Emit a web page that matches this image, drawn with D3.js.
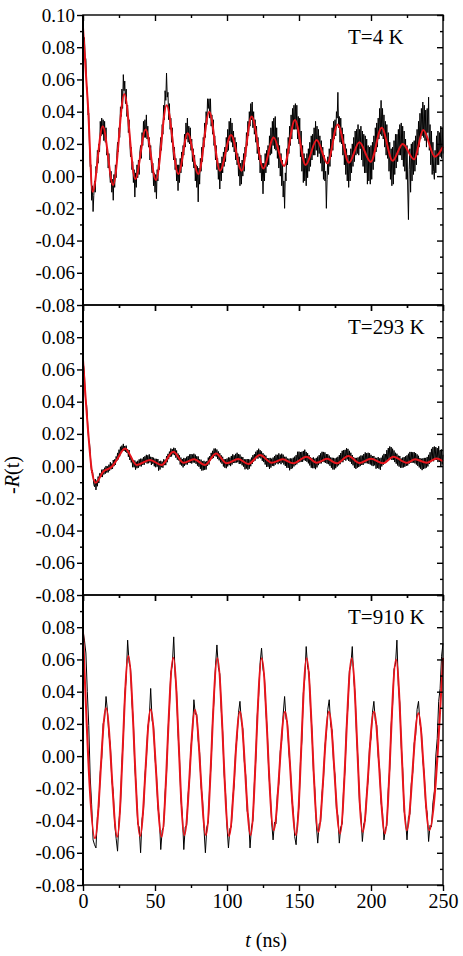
<!DOCTYPE html>
<html><head><meta charset="utf-8">
<script src="https://cdn.jsdelivr.net/npm/d3@7/dist/d3.min.js"></script>
<style>
body{margin:0;background:#fff}
svg{display:block}
text{font-family:"Liberation Serif","Times New Roman",serif;fill:#000}
</style>
</head><body>
<svg id="chart" width="463" height="956"></svg>
<script>
// ---------- data ----------
const panelLabels = ["T=4 K", "T=293 K", "T=910 K"];
const xTickValues = [0, 50, 100, 150, 200, 250];
const yTickValues = [-0.08, -0.06, -0.04, -0.02, 0.00, 0.02, 0.04, 0.06, 0.08, 0.10];
const sampleSteps = [0.5, 0.5, 1]; // ns between recorded points of each measured (black) trace

// measured signal, T = 4 K (t = 0, 0.5, ... 250 ns)
const measuredTop = [
0.094,0.084,0.086,0.073,0.073,0.056,0.054,0.038,0.039,0.019,
0.006,0.007,-0.015,-0.006,-0.022,-0.012,-0.003,-0.010,0.006,0.002,
0.016,0.008,0.020,0.015,0.034,0.025,0.036,0.026,0.035,0.022,
0.034,0.021,0.030,0.013,0.018,0.005,0.014,0.002,-0.004,0.003,
-0.010,-0.002,-0.015,0.001,-0.007,0.007,-0.001,0.013,0.021,0.015,
0.030,0.024,0.043,0.037,0.054,0.042,0.063,0.053,0.059,0.045,
0.054,0.037,0.044,0.027,0.035,0.022,0.012,0.018,0.004,0.009,
-0.004,0.004,-0.013,0.002,-0.007,0.007,-0.001,0.010,0.001,0.015,
0.019,0.011,0.027,0.019,0.034,0.024,0.035,0.024,0.038,0.023,
0.031,0.018,0.024,0.010,0.019,0.007,0.002,0.008,-0.006,0.002,
-0.010,0.001,-0.014,0.004,-0.003,0.011,0.004,0.018,0.024,0.016,
0.032,0.026,0.044,0.035,0.053,0.047,0.064,0.049,0.052,0.035,
0.045,0.029,0.036,0.021,0.030,0.016,0.010,0.018,0.004,0.011,
-0.003,0.007,-0.009,0.007,-0.004,0.011,0.002,0.015,0.006,0.019,
0.013,0.026,0.018,0.033,0.023,0.036,0.021,0.031,0.020,0.030,
0.016,0.023,0.009,0.017,0.005,0.013,-0.003,0.007,-0.007,0.006,
-0.016,0.005,-0.005,0.011,0.003,0.018,0.009,0.024,0.018,0.033,
0.024,0.040,0.032,0.048,0.042,0.048,0.036,0.048,0.031,0.038,
0.026,0.035,0.019,0.025,0.010,0.019,0.004,0.011,-0.002,0.008,
-0.008,0.008,-0.003,0.012,0.002,0.015,0.006,0.018,0.009,0.024,
0.015,0.029,0.016,0.034,0.022,0.036,0.021,0.033,0.018,0.028,
0.015,0.024,0.010,0.021,0.007,0.014,0.000,0.012,-0.006,0.008,
-0.005,0.010,0.000,0.014,0.003,0.018,0.012,0.027,0.019,0.034,
0.025,0.040,0.031,0.045,0.035,0.046,0.030,0.040,0.026,0.035,
0.021,0.031,0.014,0.024,0.010,0.018,0.002,0.013,-0.003,0.008,
-0.011,0.008,-0.003,0.014,0.002,0.016,0.006,0.019,0.007,0.025,
0.013,0.030,0.014,0.034,0.019,0.036,0.017,0.037,0.016,0.030,
0.011,0.024,0.005,0.019,0.000,0.014,-0.006,0.010,-0.013,-0.003,
-0.020,0.002,-0.003,0.017,0.007,0.024,0.014,0.031,0.019,0.038,
0.023,0.042,0.029,0.044,0.029,0.045,0.029,0.044,0.023,0.037,
0.020,0.036,0.012,0.028,0.003,0.019,-0.004,0.014,-0.003,0.011,
-0.006,0.014,-0.001,0.017,0.003,0.021,0.006,0.025,0.010,0.026,
0.013,0.030,0.013,0.034,0.016,0.031,0.012,0.029,0.014,0.025,
0.008,0.022,0.003,0.018,-0.002,0.013,-0.003,0.003,-0.020,-0.002,
0.012,0.001,0.017,0.006,0.023,0.012,0.030,0.016,0.034,0.023,
0.035,0.025,0.040,0.036,0.052,0.030,0.037,0.021,0.036,0.020,
0.030,0.013,0.026,0.007,0.020,0.001,0.017,-0.003,0.013,-0.007,
0.013,-0.003,0.017,0.002,0.020,0.006,0.024,0.009,0.028,0.013,
0.029,0.014,0.032,0.013,0.029,0.017,0.031,0.010,0.028,0.006,
0.026,0.002,0.025,0.002,0.023,-0.005,0.019,-0.003,0.018,-0.005,
0.019,-0.002,0.021,0.004,0.025,0.009,0.030,0.015,0.033,0.018,
0.036,0.023,0.042,0.026,0.047,0.025,0.042,0.023,0.038,0.018,
0.034,0.013,0.032,0.011,0.027,0.003,0.021,-0.002,0.017,-0.006,
0.018,-0.005,0.022,0.001,0.026,0.005,0.026,0.009,0.029,0.013,
0.032,0.013,0.033,0.010,0.031,0.006,0.028,0.003,0.023,-0.002,
0.019,-0.008,-0.027,0.004,0.017,-0.010,0.020,-0.003,0.021,0.001,
0.022,0.003,0.025,0.007,0.029,0.013,0.034,0.018,0.039,0.023,
0.042,0.025,0.046,0.024,0.044,0.022,0.041,0.018,0.042,0.027,
0.049,0.016,0.032,0.007,0.028,0.001,0.021,0.003,-0.002,0.016,
0.002,0.025,0.007,0.028,0.007,0.027,0.012,0.031,0.011,0.030,
0.014];

// measured signal, T = 293 K (t = 0, 0.5, ... 250 ns)
const measuredMid = [
0.064,0.062,0.057,0.045,0.039,0.038,0.031,0.0215,0.016,0.0145,
0.009,0.0005,-0.004,-0.0025,-0.006,-0.0115,-0.0128,-0.008,-0.0148,-0.009,
-0.0125,-0.0065,-0.0105,-0.0045,-0.0045,-0.0068,-0.0022,-0.0068,-0.002,-0.0052,
-0.001,-0.0047,0.0001,-0.004,-0.0002,-0.0039,0.0009,-0.0028,0.0024,-0.002,
0.0016,-0.0018,0.0038,0.0000,0.0042,0.0008,0.006,0.0033,0.0082,0.0042,
0.0102,0.0061,0.012,0.0081,0.0127,0.0095,0.0138,0.0094,0.0125,0.0089,
0.0127,0.0082,0.0106,0.0058,0.010,0.0038,0.0065,0.0023,0.0045,-0.0007,
0.0037,-0.0007,0.0035,-0.0022,0.0027,-0.0013,0.0033,-0.001,0.0042,-0.0001,
0.0046,-0.0002,0.0046,0.0008,0.0056,0.0008,0.0061,0.0023,0.007,0.0016,
0.0067,0.0018,0.0073,0.0023,0.0058,0.0007,0.0056,0.0014,0.0052,-0.0001,
0.0046,-0.0007,0.0045,-0.0003,0.0044,-0.0028,0.003,-0.0021,0.0033,-0.0007,
0.0028,-0.001,0.0042,0.0006,0.004,0.0006,0.0062,0.0024,0.0076,0.0043,
0.009,0.0057,0.0109,0.006,0.0105,0.0072,0.0114,0.0068,0.0111,0.0052,
0.0097,0.004,0.0078,0.0035,0.0067,0.001,0.0053,0.0003,0.0044,-0.0008,
0.0051,0.0002,0.0048,0.001,0.0058,0.001,0.0063,0.002,0.0072,0.0019,
0.0075,0.0016,0.0072,0.0022,0.0077,0.0022,0.0071,0.0014,0.0061,0.0003,
0.006,-0.0004,0.0042,-0.0017,0.004,-0.0028,0.003,-0.0026,0.0033,-0.0023,
0.0027,-0.0021,0.0032,0.0002,0.0053,0.001,0.0062,0.0035,0.0082,0.0044,
0.0095,0.005,0.0109,0.0062,0.0109,0.0059,0.0103,0.0045,0.0091,0.0036,
0.008,0.0024,0.0067,0.0015,0.0058,-0.0002,0.0043,-0.001,0.0043,-0.0013,
0.0047,-0.0002,0.0054,0.0006,0.0053,0.0000,0.0063,0.001,0.0073,0.002,
0.0067,0.0019,0.0076,0.0022,0.0083,0.0024,0.0074,0.0013,0.0072,0.0015,
0.0058,0.0005,0.0056,-0.0003,0.0043,-0.002,0.0042,-0.0015,0.0044,-0.0022,
0.0043,-0.0016,0.0041,-0.0001,0.0053,0.0013,0.0068,0.0028,0.0074,0.0034,
0.0089,0.0049,0.0098,0.0046,0.0108,0.0054,0.0099,0.0048,0.0091,0.0033,
0.008,0.0025,0.007,0.001,0.0065,-0.0005,0.005,-0.0004,0.0049,-0.0018,
0.0051,-0.0009,0.0046,0.0002,0.0053,0.0000,0.0062,0.0009,0.0071,0.0018,
0.007,0.0012,0.0079,0.002,0.0071,0.0012,0.0077,0.0022,0.0071,0.001,
0.0058,0.0001,0.0058,-0.001,0.0047,-0.0011,0.0046,-0.0026,0.0048,-0.0018,
0.0047,-0.0013,0.0052,-0.0002,0.0059,0.0006,0.0068,0.0011,0.0089,0.0022,
0.009,0.0024,0.0087,0.0026,0.0089,0.0027,0.0094,0.0036,0.0102,0.0033,
0.0088,0.0027,0.008,0.0017,0.0068,0.0004,0.0055,-0.001,0.0051,-0.0013,
0.0054,-0.0013,0.0046,-0.0019,0.0051,-0.0008,0.0059,0.0006,0.0068,0.0016,
0.0079,0.0017,0.0089,0.0026,0.0088,0.0024,0.0085,0.002,0.0075,0.0015,
0.0074,0.0012,0.0065,0.0002,0.0054,-0.001,0.0052,-0.0021,0.0051,-0.0021,
0.0048,-0.0013,0.0052,-0.0003,0.0058,0.0005,0.0068,0.0012,0.0081,0.0025,
0.0095,0.0024,0.0099,0.0038,0.0101,0.0034,0.0111,0.0042,0.0107,0.0032,
0.0095,0.0027,0.0083,0.0014,0.0069,0.0005,0.0055,-0.001,0.0051,-0.0017,
0.0051,-0.001,0.0054,-0.0006,0.0059,0.0000,0.0066,0.0008,0.0065,0.0007,
0.0075,0.0018,0.0085,0.0018,0.008,0.0017,0.0083,0.0014,0.008,0.001,
0.007,0.0004,0.0062,0.0000,0.0063,0.0005,0.0052,-0.0016,0.0051,-0.0012,
0.0056,-0.0016,0.0048,-0.0023,0.0052,-0.0002,0.0065,0.0008,0.0076,0.002,
0.0075,0.0024,0.0099,0.0038,0.0112,0.004,0.0122,0.0048,0.0118,0.0038,
0.0108,0.0038,0.0097,0.0025,0.0083,0.0015,0.0077,0.0004,0.0065,-0.0003,
0.0063,-0.001,0.0047,-0.001,0.0053,-0.0008,0.0056,-0.0004,0.0061,0.0001,
0.0067,0.0004,0.0077,0.0015,0.0088,0.0021,0.0088,0.002,0.0086,0.0022,
0.0087,0.0017,0.0081,0.001,0.0073,0.0001,0.0064,-0.0008,0.005,-0.0017,
0.0046,-0.0025,0.0048,-0.0018,0.0051,-0.0014,0.0051,-0.0009,0.0057,-0.0002,
0.007,0.0013,0.0086,0.0024,0.0107,0.0035,0.0118,0.003,0.0122,0.0038,
0.0118,0.0038,0.0112,0.0025,0.0123,0.0026,0.0098,-0.0005,0.0103,0.0011,
0.007];

// measured signal, T = 910 K (t = 0, 1, ... 250 ns)
const measuredBot = [
0.078,0.072,0.064,0.040,0.019,-0.013,-0.030,-0.052,-0.055,-0.057,
-0.038,-0.031,-0.010,-0.001,0.020,0.023,0.037,0.028,0.013,0.007,
-0.015,-0.022,-0.042,-0.051,-0.059,-0.040,-0.031,-0.004,0.011,0.038,
0.048,0.072,0.058,0.055,0.033,0.021,-0.007,-0.020,-0.042,-0.044,
-0.060,-0.039,-0.034,-0.012,-0.002,0.018,0.023,0.042,0.022,0.019,
-0.001,-0.011,-0.032,-0.038,-0.058,-0.046,-0.044,-0.023,-0.011,0.015,
0.030,0.052,0.056,0.074,0.050,0.040,0.014,-0.001,-0.027,-0.036,
-0.058,-0.044,-0.043,-0.024,-0.014,0.006,0.014,0.035,0.026,0.026,
0.010,0.002,-0.019,-0.027,-0.045,-0.060,-0.044,-0.041,-0.018,-0.004,
0.022,0.035,0.056,0.069,0.055,0.051,0.029,0.015,-0.011,-0.023,
-0.044,-0.057,-0.045,-0.044,-0.026,-0.018,0.004,0.012,0.027,0.034,
0.021,0.017,-0.003,-0.012,-0.034,-0.038,-0.057,-0.044,-0.040,-0.017,
-0.002,0.025,0.038,0.058,0.067,0.054,0.049,0.028,0.015,-0.010,
-0.022,-0.041,-0.052,-0.041,-0.042,-0.024,-0.017,0.003,0.010,0.026,
0.037,0.023,0.021,0.002,-0.007,-0.027,-0.034,-0.050,-0.055,-0.039,
-0.031,-0.004,0.010,0.039,0.048,0.068,0.055,0.052,0.030,0.016,
-0.009,-0.021,-0.042,-0.054,-0.042,-0.041,-0.023,-0.014,0.006,0.014,
0.029,0.035,0.019,0.016,-0.004,-0.012,-0.033,-0.037,-0.054,-0.044,
-0.042,-0.020,-0.008,0.019,0.031,0.053,0.056,0.068,0.048,0.038,
0.012,-0.003,-0.029,-0.036,-0.053,-0.042,-0.040,-0.023,-0.015,0.006,
0.011,0.027,0.034,0.022,0.019,0.000,-0.008,-0.029,-0.035,-0.052,
-0.045,-0.043,-0.021,-0.008,0.019,0.032,0.054,0.057,0.072,0.044,
0.033,0.006,-0.008,-0.034,-0.040,-0.052,-0.038,-0.036,-0.017,-0.010,
0.008,0.013,0.029,0.034,0.020,0.016,-0.003,-0.011,-0.031,-0.035,
-0.053,-0.043,-0.044,-0.029,-0.022,0.000,0.011,0.034,0.042,0.062,
0.070];

// fitted curve, T = 4 K (turning points)
const fitTopT = [0,3.5,6.7,13.7,21,28.7,36.3,43.5,50.7,58.1,66.2,72.7,80.1,87.7,95.1,102.8,110.2,117.1,125.2,132.4,139.6,147.2,154.6,162.3,169.7,176.9,184.7,191.9,199.8,207.4,215,222,229.9,236.3,244.4,250];
const fitTopV = [0.092,0.043,-0.0097,0.031,-0.0055,0.051,-0.0018,0.029,-0.0024,0.044,0.0013,0.0266,0.0013,0.040,0.0034,0.0255,0.0034,0.037,0.0048,0.024,0.0063,0.0348,0.0069,0.0224,0.008,0.0321,0.0083,0.021,0.0089,0.030,0.0096,0.020,0.0104,0.0286,0.012,0.0182];

// fitted curve, T = 293 K
const fitMidT = [0,3.7,6,8.8,14,20,23.4,29.2,37.3,46.5,54.6,62.7,69.7,77.1,84.7,92.4,99.8,107.9,114.8,122.9,131,138.7,146,155.3,162.3,169.5,176.2,184.3,192,200,208.5,215.5,224.8,230.6,238.7,245.6,250];
const fitMidV = [0.066,0.020,-0.002,-0.0103,-0.0035,-0.0004,0.0038,0.011,0.0007,0.0038,0.0007,0.0089,0.0021,0.0042,0.0007,0.0079,0.0017,0.0044,0.0013,0.0069,0.0021,0.0042,0.0017,0.0058,0.0021,0.0045,0.0017,0.0062,0.0019,0.0045,0.0017,0.0058,0.0021,0.0042,0.0021,0.0048,0.0030];

// fitted curve, T = 910 K
const fitBotT = [0,8.3,16,23.8,31.5,39.6,47,54.6,62.7,70.4,77.8,85.4,93.3,101.4,109,116.4,124.1,132.4,140.3,147.9,155.3,163.4,170.8,178.5,186.6,194.2,202.1,209.7,217.4,224.8,232.9,240.5,250];
const fitBotV = [0.0772,-0.051,0.0297,-0.050,0.0621,-0.0496,0.029,-0.050,0.0611,-0.049,0.0286,-0.049,0.0607,-0.0496,0.0276,-0.049,0.0607,-0.046,0.0276,-0.049,0.0607,-0.047,0.0276,-0.048,0.0607,-0.047,0.0276,-0.048,0.060,-0.046,0.0266,-0.046,0.061];

// ---------- drawing ----------
const left = 83, right = 443, top0 = 15, panelH = 290;
const serif = '"Liberation Serif","Times New Roman",serif';
const svg = d3.select("#chart");

const x = d3.scaleLinear().domain([0, 250]).range([left, right]);
const fmt = d => d.toFixed(2);
const minorY = d3.range(-7, 10, 2).map(k => k / 100);
const minorX = [25, 75, 125, 175, 225];

const panels = [
  {label: panelLabels[0], measured: measuredTop, step: sampleSteps[0], fitT: fitTopT, fitV: fitTopV},
  {label: panelLabels[1], measured: measuredMid, step: sampleSteps[1], fitT: fitMidT, fitV: fitMidV},
  {label: panelLabels[2], measured: measuredBot, step: sampleSteps[2], fitT: fitBotT, fitV: fitBotV}
];

function styleAxis(g) {
  g.attr("font-family", serif);
  g.select(".domain").remove();
  g.selectAll(".tick line").attr("stroke", "#000").attr("stroke-width", 1.4);
  g.selectAll(".tick text").attr("fill", "#000").style("font-family", serif);
}

panels.forEach((p, i) => {
  const pt = top0 + i * panelH, pb = pt + panelH;
  const y = d3.scaleLinear().domain([-0.08, 0.10]).range([pb, pt]);
  const g = svg.append("g");

  // measured trace
  const measuredPts = p.measured.map((v, k) => [k * p.step, v]);
  g.append("path")
    .datum(measuredPts)
    .attr("fill", "none").attr("stroke", "#000").attr("stroke-width", 1)
    .attr("stroke-linejoin", "round")
    .attr("d", d3.line().x(d => x(d[0])).y(d => y(d[1])));

  // fit
  const fitPts = p.fitT.map((t, k) => [t, p.fitV[k]]);
  g.append("path")
    .datum(fitPts)
    .attr("fill", "none").attr("stroke", "#e8141b").attr("stroke-width", 2)
    .attr("d", d3.line().curve(d3.curveMonotoneX).x(d => x(d[0])).y(d => y(d[1])));

  // left axis (outward ticks)
  const majors = i === 0 ? yTickValues : yTickValues.filter(v => v < 0.095);
  g.append("g").attr("transform", `translate(${left},0)`)
    .call(d3.axisLeft(y).tickValues(majors).tickSize(6).tickPadding(2).tickFormat(fmt))
    .call(styleAxis)
    .call(a => a.selectAll("text").style("font-size", "19px"));
  g.append("g").attr("transform", `translate(${left},0)`)
    .call(d3.axisLeft(y).tickValues(minorY).tickSize(3).tickFormat(""))
    .call(styleAxis);

  // right axis (ticks pointing into the panel)
  g.append("g").attr("transform", `translate(${right},0)`)
    .call(d3.axisLeft(y).tickValues(yTickValues).tickSize(6).tickFormat(""))
    .call(styleAxis);
  g.append("g").attr("transform", `translate(${right},0)`)
    .call(d3.axisLeft(y).tickValues(minorY).tickSize(3).tickFormat(""))
    .call(styleAxis);

  // top axis (ticks pointing down into the panel)
  g.append("g").attr("transform", `translate(0,${pt})`)
    .call(d3.axisBottom(x).tickValues(xTickValues).tickSize(6).tickFormat(""))
    .call(styleAxis);
  g.append("g").attr("transform", `translate(0,${pt})`)
    .call(d3.axisBottom(x).tickValues(minorX).tickSize(3).tickFormat(""))
    .call(styleAxis);

  // bottom axis (outward)
  g.append("g").attr("transform", `translate(0,${pb})`)
    .call(d3.axisBottom(x).tickValues(xTickValues).tickSize(6).tickPadding(3)
      .tickFormat(i === 2 ? d3.format("d") : ""))
    .call(styleAxis)
    .call(a => a.selectAll("text").style("font-size", "20px"));
  g.append("g").attr("transform", `translate(0,${pb})`)
    .call(d3.axisBottom(x).tickValues(minorX).tickSize(3).tickFormat(""))
    .call(styleAxis);

  // frame
  g.append("rect").attr("x", left).attr("y", pt).attr("width", right - left).attr("height", panelH)
    .attr("fill", "none").attr("stroke", "#000").attr("stroke-width", 1.4);
  g.append("line").attr("x1", left).attr("x2", left).attr("y1", pt).attr("y2", pb)
    .attr("stroke", "#000").attr("stroke-width", 2);

  // panel label
  g.append("text").attr("x", 348).attr("y", pt + 28.5)
    .style("font-size", "21px").text(p.label);
});

// axis titles
const xt = svg.append("text").attr("x", 266).attr("y", 947).attr("text-anchor", "middle").style("font-size", "20px");
xt.append("tspan").style("font-style", "italic").text("t");
xt.append("tspan").text(" (ns)");

const yt = svg.append("text").attr("transform", "translate(19,475) rotate(-90)")
  .attr("text-anchor", "middle").style("font-size", "20px");
yt.append("tspan").text("-");
yt.append("tspan").style("font-style", "italic").text("R");
yt.append("tspan").text("(t)");
</script>
</body></html>
